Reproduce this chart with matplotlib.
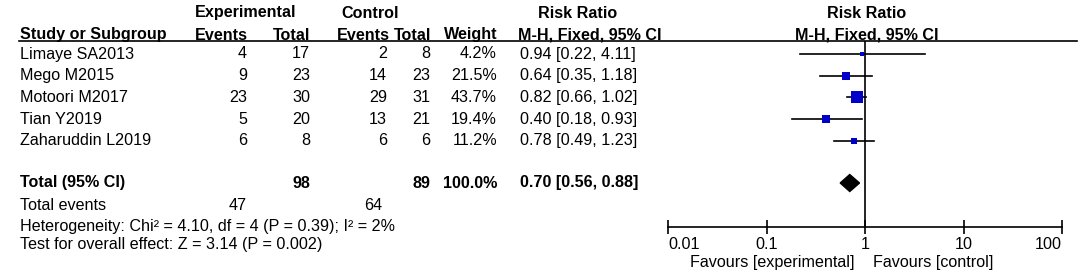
import matplotlib
matplotlib.use("Agg")
import matplotlib.pyplot as plt
import numpy as np
from matplotlib.patches import Polygon

plt.rcParams['font.family'] = ['Liberation Sans', 'DejaVu Sans']

# data
studies = ["Limaye SA2013", "Mego M2015", "Motoori M2017", "Tian Y2019", "Zaharuddin L2019"]
exp_events = [4, 9, 23, 5, 6]
exp_total = [17, 23, 30, 20, 8]
ctl_events = [2, 14, 29, 13, 6]
ctl_total = [8, 23, 31, 21, 6]
weights = [4.2, 21.5, 43.7, 19.4, 11.2]
rr = [0.94, 0.64, 0.82, 0.40, 0.78]
rr_lo = [0.22, 0.35, 0.66, 0.18, 0.49]
rr_hi = [4.11, 1.18, 1.02, 0.93, 1.23]

tot_rr, tot_lo, tot_hi = 0.70, 0.56, 0.88
tot_exp, tot_ctl = 98, 89
tot_exp_events, tot_ctl_events = 47, 64
het_text = "Heterogeneity: Chi\u00b2 = 4.10, df = 4 (P = 0.39); I\u00b2 = 2%"
z_text = "Test for overall effect: Z = 3.14 (P = 0.002)"
ticks = [0.01, 0.1, 1, 10, 100]
tick_labels = ["0.01", "0.1", "1", "10", "100"]

# layout (pixels)
W, H = 1084, 279
row_y = [54, 75.7, 97.4, 119.1, 140.8]
total_y = 183
events_y = 206
het_y = 226
z_y = 245
fs = 11.6
blue = "#0000c8"

fig = plt.figure(figsize=(W / 100, H / 100), dpi=100)
tab = fig.add_axes([0, 0, 1, 1])
tab.set_xlim(0, W)
tab.set_ylim(H, 0)
tab.axis("off")


def txt(x, y, s, ha="left", bold=False):
    tab.text(x, y, s, ha=ha, va="center", fontsize=fs,
             fontweight="bold" if bold else "normal")


# headers
txt(246, 13, "Experimental", ha="center", bold=True)
txt(370, 13, "Control", ha="center", bold=True)
txt(578, 13, "Risk Ratio", ha="center", bold=True)
txt(20, 35, "Study or Subgroup", bold=True)
txt(248, 35, "Events", ha="right", bold=True)
txt(310, 35, "Total", ha="right", bold=True)
txt(390, 35, "Events", ha="right", bold=True)
txt(431, 35, "Total", ha="right", bold=True)
txt(498, 35, "Weight", ha="right", bold=True)
txt(590, 35, "M-H, Fixed, 95% CI", ha="center", bold=True)
txt(867, 13, "Risk Ratio", ha="center", bold=True)
txt(867, 35, "M-H, Fixed, 95% CI", ha="center", bold=True)
tab.plot([19, 1077], [41, 41], color="black", lw=1.2)

for i, name in enumerate(studies):
    y = row_y[i]
    txt(20, y, name)
    txt(247, y, str(exp_events[i]), ha="right")
    txt(310, y, str(exp_total[i]), ha="right")
    txt(387, y, str(ctl_events[i]), ha="right")
    txt(430, y, str(ctl_total[i]), ha="right")
    txt(497, y, f"{weights[i]:.1f}%", ha="right")
    txt(520, y, f"{rr[i]:.2f} [{rr_lo[i]:.2f}, {rr_hi[i]:.2f}]")

txt(20, total_y, "Total (95% CI)", bold=True)
txt(310, total_y, str(tot_exp), ha="right", bold=True)
txt(430, total_y, str(tot_ctl), ha="right", bold=True)
txt(497, total_y, f"{sum(weights):.1f}%", ha="right", bold=True)
txt(520, total_y, f"{tot_rr:.2f} [{tot_lo:.2f}, {tot_hi:.2f}]", bold=True)
txt(20, events_y, "Total events")
txt(247, events_y, str(tot_exp_events), ha="right")
txt(382, events_y, str(tot_ctl_events), ha="right")
txt(20, het_y, het_text)
txt(20, z_y, z_text)

# forest panel
x0, x1 = 668, 1062
ytop, ybot = 41, 227
ax = fig.add_axes([x0 / W, 1 - ybot / H, (x1 - x0) / W, (ybot - ytop) / H])
ax.patch.set_alpha(0)
ax.set_xscale("log")
ax.set_xlim(0.01, 100)
ax.set_ylim(ybot, ytop)
for s in ["left", "right", "top"]:
    ax.spines[s].set_visible(False)
ax.spines["bottom"].set_linewidth(1.2)
ax.set_yticks([])
ax.set_xticks(ticks)
ax.set_xticklabels(tick_labels, fontsize=fs)
ax.minorticks_off()
ax.tick_params(axis="x", direction="inout", length=10, width=1.2, pad=2)
labs = ax.get_xticklabels()
labs[0].set_ha("left")
labs[-1].set_ha("right")
ax.axvline(1, color="black", lw=1.2)

sizes = 1.82 * np.sqrt(weights)
for i in range(len(studies)):
    y = row_y[i]
    ax.plot([rr_lo[i], rr_hi[i]], [y, y], color="black", lw=1.2, zorder=2)
    ax.plot(rr[i], y, marker="s", ms=sizes[i] * 0.75, color=blue,
            markeredgecolor=blue, mew=0, zorder=3)

dh = 8.5
diamond = Polygon([[tot_lo, total_y], [tot_rr, total_y - dh],
                   [tot_hi, total_y], [tot_rr, total_y + dh]],
                  closed=True, color="black", zorder=3)
ax.add_patch(diamond)

txt(855, 263, "Favours [experimental]", ha="right")
txt(873, 263, "Favours [control]")

fig.savefig("out.png", dpi=100)
